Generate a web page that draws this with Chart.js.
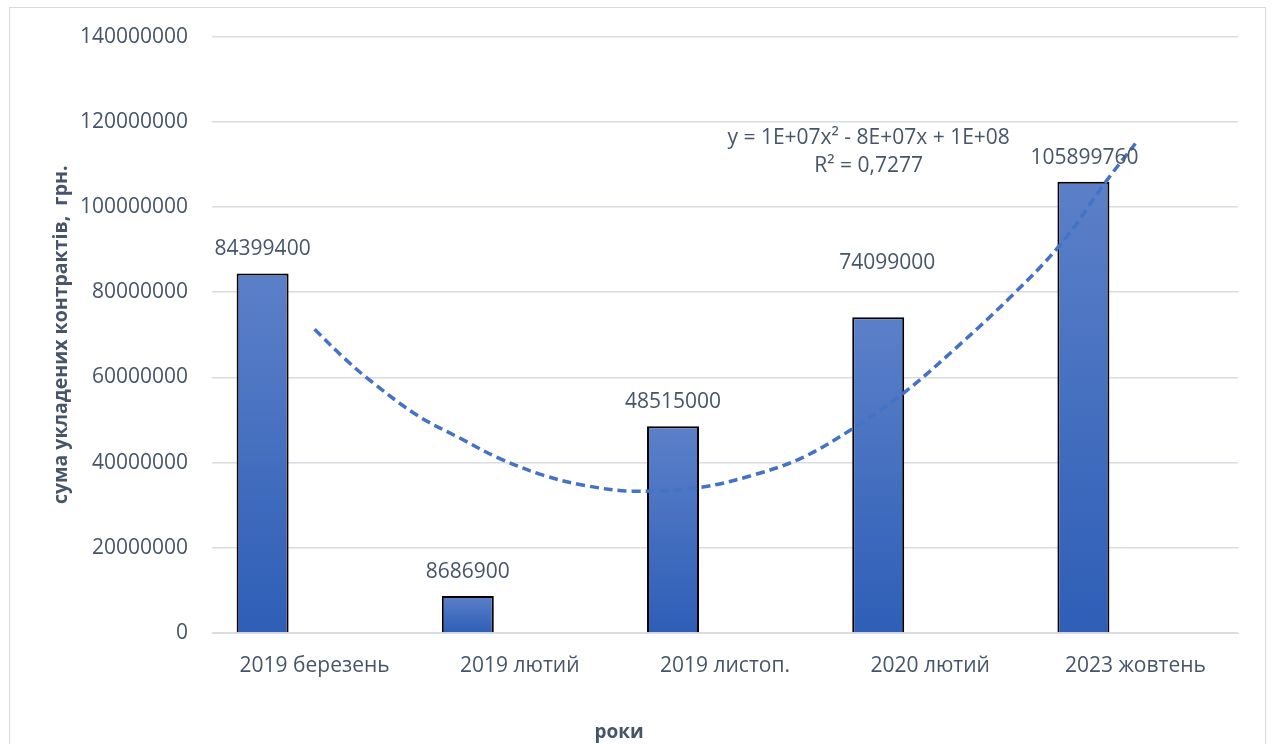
<!DOCTYPE html>
<html>
<head>
<meta charset="utf-8">
<script src="https://cdn.jsdelivr.net/npm/chart.js@4.4.1/dist/chart.umd.min.js"></script>
<style>
  html, body { margin: 0; padding: 0; background: #fff; }
  #wrap { position: relative; width: 1275px; height: 744px; overflow: hidden; }
  #frame {
    position: absolute; left: 9px; top: 7px; width: 1257px; height: 800px;
    border: 1px solid #d9d9d9; box-sizing: border-box; pointer-events: none;
  }
  canvas { position: absolute; left: 0; top: 0; }
</style>
</head>
<body>
<div id="wrap">
  <div id="frame"></div>
  <canvas id="chart" width="1275" height="744"></canvas>
</div>
<script>
// categories and contract sums, UAH
const categories = ['2019 березень', '2019 лютий', '2019 листоп.', '2020 лютий', '2023 жовтень'];
const contractSums = [84399400, 8686900, 48515000, 74099000, 105899760];

// polynomial trend line (x in category index, y in UAH)
const trendX = [0, 0.14, 0.27, 0.5, 0.71, 0.9, 1.11, 1.31, 1.55, 1.88, 2.14, 2.37, 2.61, 2.87, 3.13, 3.39, 3.64, 3.86, 4.0];
const trendY = [71300000, 64700000, 59300000, 51100000, 45700000, 41000000, 37100000, 34700000, 33300000,
  34200000, 37100000, 41000000, 47600000, 56300000, 67100000, 78800000, 91500000, 106200000, 114900000];
const trendLabel = ['y = 1E+07x² - 8E+07x + 1E+08', 'R² = 0,7277'];

const yMax = 140000000;
const yStep = 20000000;

const TEXT = '#465569';
const GRID = '#d9dce1';
const FONT = '"Open Sans", sans-serif';

Chart.defaults.font.family = FONT;
Chart.defaults.color = TEXT;

// labels above the bars; the 4th one was moved up in the original
const valueLabels = {
  id: 'valueLabels',
  afterDatasetsDraw(chart, args, opts) {
    const meta = chart.getDatasetMeta(0);
    const ctx = chart.ctx;
    ctx.save();
    ctx.font = `21px ${FONT}`;
    ctx.fillStyle = TEXT;
    ctx.textAlign = 'center';
    ctx.textBaseline = 'middle';
    meta.data.forEach((bar, i) => {
      const shift = opts.shift[i] || [0, 0];
      ctx.fillText(String(contractSums[i]), bar.x + shift[0], bar.y - 24 + shift[1]);
    });
    ctx.restore();
  },
};

// trend equation text
const trendText = {
  id: 'trendText',
  afterDatasetsDraw(chart) {
    const { ctx, scales } = chart;
    const x = scales.x.getPixelForValue(2.7);
    const y = scales.y.getPixelForValue(116300000);
    ctx.save();
    ctx.font = `21px ${FONT}`;
    ctx.fillStyle = TEXT;
    ctx.textAlign = 'center';
    ctx.textBaseline = 'middle';
    trendLabel.forEach((line, i) => ctx.fillText(line, x, y + i * 28));
    ctx.restore();
  },
};

const barFill = (context) => {
  const { chart } = context;
  const y = chart.scales.y;
  const v = context.raw && context.raw.y;
  if (!y || context.type !== 'data' || v == null) return '#4472c4';
  const top = y.getPixelForValue(v);
  const base = y.getPixelForValue(0);
  if (!isFinite(top) || !isFinite(base) || top === base) return '#4472c4';
  const g = chart.ctx.createLinearGradient(0, top, 0, base);
  g.addColorStop(0, '#5b80c8');
  g.addColorStop(1, '#2e5eb7');
  return g;
};

// the original is a 3-series cluster with two empty series
const emptySeries = categories.map((c, i) => ({ x: i, y: null }));
const barOpts = { categoryPercentage: 0.76, barPercentage: 1, order: 1 };

new Chart(document.getElementById('chart'), {
  type: 'bar',
  data: {
    datasets: [
      {
        label: 'сума',
        data: contractSums.map((y, i) => ({ x: i, y })),
        backgroundColor: barFill,
        borderColor: '#000',
        borderWidth: 2,
        ...barOpts,
      },
      { label: 'b', data: emptySeries, ...barOpts },
      { label: 'c', data: emptySeries, ...barOpts },
      {
        type: 'line',
        label: 'trend',
        data: trendX.map((x, i) => ({ x, y: trendY[i] })),
        borderColor: '#4472c4',
        borderWidth: 3.5,
        borderDash: [9, 5],
        pointRadius: 0,
        fill: false,
        tension: 0.35,
        order: 0,
      },
    ],
  },
  options: {
    responsive: false,
    animation: false,
    layout: { padding: { top: 36, right: 37, left: 0, bottom: 0 } },
    plugins: {
      legend: { display: false },
      tooltip: { enabled: false },
      title: {
        display: true,
        position: 'bottom',
        text: 'роки',
        color: TEXT,
        font: { size: 19, weight: 'bold' },
        padding: { top: 0, bottom: 0 },
      },
      valueLabels: { shift: [[0, 0], [0, 0], [0, 0], [9, -30], [1, 0]] },
    },
    scales: {
      x: {
        type: 'linear',
        min: -0.5,
        max: 4.5,
        offset: false,
        grid: { display: false, drawTicks: false },
        border: { display: true, color: GRID, width: 1 },
        ticks: {
          padding: 20,
          font: { size: 21 },
          color: TEXT,
          maxRotation: 0,
          autoSkip: false,
          callback: (v) => categories[v] ?? '',
        },
        afterBuildTicks(scale) { scale.ticks = categories.map((c, i) => ({ value: i })); },
        afterFit(scale) { scale.height = 88.2; },
      },
      y: {
        min: 0,
        max: yMax,
        ticks: {
          stepSize: yStep,
          padding: 24,
          font: { size: 21 },
          color: TEXT,
          callback: (v) => String(v),
        },
        grid: { color: GRID, lineWidth: 1.5, drawTicks: false },
        border: { display: false },
        title: {
          display: true,
          text: 'сума укладених контрактів,  грн.',
          color: TEXT,
          font: { size: 19.5, weight: 'bold' },
          padding: { top: 50, bottom: 0 },
        },
        afterFit(scale) { scale.width = 212; },
      },
    },
  },
  plugins: [valueLabels, trendText],
});
</script>
</body>
</html>
